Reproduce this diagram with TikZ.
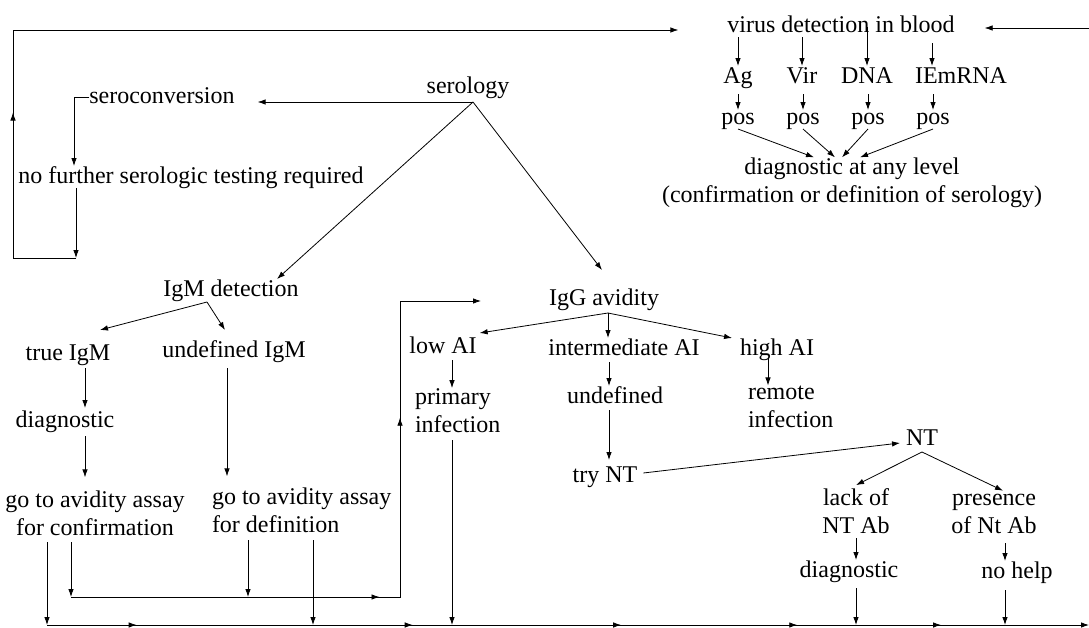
\documentclass[tikz,border=0pt]{standalone}
\usepackage{fontspec}
\setmainfont{Liberation Serif}
\usetikzlibrary{arrows.meta,decorations.markings}
\begin{document}
\begin{tikzpicture}[x=1pt,y=-1pt,
  lbl/.style={anchor=base,inner sep=0pt,outer sep=0pt,text height=17pt,text depth=5pt,font=\fontsize{24}{28}\selectfont},
  mlc/.style={anchor=base,inner sep=0pt,outer sep=0pt,align=center,font=\fontsize{24}{28}\selectfont},
  mll/.style={anchor=base west,inner sep=0pt,outer sep=0pt,align=left,font=\fontsize{24}{28}\selectfont},
  tip/.tip={Latex[length=8pt,width=5.5pt]},
  ln/.style={draw,line width=0.8pt},
  arr/.style={draw,line width=0.8pt,-tip},
  routemarks/.style={postaction={decorate,decoration={markings,
     mark=at position 0.437 with {\arrow{tip}},
     mark=at position 0.72 with {\arrow{tip}}}}},
  loopmark/.style={postaction={decorate,decoration={markings,
     mark=at position 0.218 with {\arrow{tip}}}}},
  bottommarks/.style={postaction={decorate,decoration={markings,
     mark=at position 0.086 with {\arrow{tip}},
     mark=at position 0.351 with {\arrow{tip}},
     mark=at position 0.551 with {\arrow{tip}},
     mark=at position 0.72 with {\arrow{tip}},
     mark=at position 0.858 with {\arrow{tip}}}}}
]
\useasboundingbox (0,0) rectangle (1089,627);

% ---- nodes (multi-line nodes are placed by the baseline of their last line) ----
\node[lbl] (vdb) at (841,32) {virus detection in blood};
\node[lbl] (ag) at (738,83) {Ag};
\node[lbl] (vir) at (802,83) {Vir};
\node[lbl] (dna) at (867,83) {DNA};
\node[lbl] (iem) at (961,83) {IEmRNA};
\node[lbl] (pos1) at (738,124) {pos};
\node[lbl] (pos2) at (803,124) {pos};
\node[lbl] (pos3) at (868,124) {pos};
\node[lbl] (pos4) at (933,124) {pos};
\node[mlc] (dal) at (852,202) {diagnostic at any level\\(confirmation or definition of serology)};

\node[lbl] (ser) at (468,93) {serology};
\node[lbl] (sero) at (162,103) {seroconversion};
\node[lbl] (nfst) at (191,183) {no further serologic testing required};

\node[lbl] (igm) at (231,296) {IgM detection};
\node[lbl] (igg) at (604,305) {IgG avidity};
\node[lbl] (tigm) at (68,360) {true IgM};
\node[lbl] (uigm) at (234,357) {undefined IgM};
\node[lbl] (dg1) at (65,427) {diagnostic};
\node[mlc] (ga1) at (95,535) {go to avidity assay\\for confirmation};
\node[mll] (ga2) at (212,532) {go to avidity assay\\ for definition};

\node[lbl] (lowai) at (443,353) {low AI};
\node[mll] (prim) at (415,432) {primary\\infection};
\node[lbl] (intai) at (624,355) {intermediate AI};
\node[lbl] (highai) at (777,355) {high AI};
\node[lbl] (undef) at (615,403) {undefined};
\node[mll] (remote) at (748,427) {remote\\infection};
\node[lbl] (trynt) at (605,482) {try NT};
\node[lbl] (nt) at (922,445) {NT};
\node[mlc] (lack) at (856,533) {lack of\\NT Ab};
\node[mlc] (pres) at (994,533) {presence\\of Nt Ab};
\node[lbl] (dg2) at (849,577) {diagnostic};
\node[lbl] (nohelp) at (1017,578) {no help};

% ---- helper coordinates ----
\coordinate (rtop) at (1089,28);
\coordinate (c1) at (76,258);
\coordinate (c2) at (13,258);
\coordinate (c3) at (13,30);
\coordinate (bl) at (47,625);
\coordinate (br) at (1089,625);
\coordinate (ra) at (71,597);
\coordinate (rc) at (400,597);
\coordinate (rb) at (400,301);
\coordinate (serhub) at ([xshift=5pt,yshift=-4pt]ser.south);
\coordinate (igmhub) at ([xshift=-24pt,yshift=-1pt]igm.south);
\coordinate (igghub) at ([xshift=4pt,yshift=-3pt]igg.south);
\coordinate (nthub) at ([yshift=-2pt]nt.south);

% ---- virus detection ----
\draw[arr] (ag.north |- vdb.south) -- (ag.north);
\draw[arr] (vir.north |- vdb.south) -- (vir.north);
\draw[arr] ([yshift=10pt]dna.north |- vdb.south) -- (dna.north);
\draw[arr] ([xshift=-29pt,yshift=-6pt]iem.north |- vdb.south) -- ([xshift=-29pt]iem.north);
\draw[arr] ([yshift=-6pt]pos1.north |- ag.south) -- ([yshift=-3pt]pos1.north);
\draw[arr] ([yshift=-6pt]pos2.north |- vir.south) -- ([yshift=-3pt]pos2.north);
\draw[arr] ([yshift=-6pt]pos3.north |- dna.south) -- ([yshift=-3pt]pos3.north);
\draw[arr] ([yshift=-6pt]pos4.north |- iem.south) -- ([yshift=-3pt]pos4.north);
\draw[arr] (pos1.south) -- ([xshift=-38pt]dal.north);
\draw[arr] (pos2.south) -- ([xshift=-17pt]dal.north);
\draw[arr] (pos3.south) -- ([xshift=-10pt]dal.north);
\draw[arr] (pos4.south) -- ([xshift=8pt]dal.north);
\draw[arr] (rtop) -- ([xshift=30pt]vdb.east |- rtop);

% ---- loop and seroconversion ----
\draw[arr] (c1 |- nfst.south) -- (c1);
\draw[arr,loopmark] (c1) -- (c2) -- (c3) -- ([xshift=-49pt]vdb.west |- c3);
\draw[arr] (sero.west) -| ([xshift=-117pt]nfst.north);
\draw[arr] (serhub) -- ([xshift=23pt]sero.east |- serhub);
\draw[arr] (serhub) -- ([xshift=46pt]igm.north);
\draw[arr] (serhub) -- ([xshift=-2pt,yshift=18pt]igg.north);

% ---- IgM branch ----
\draw[arr] (igmhub) -- ([xshift=32pt,yshift=13pt]tigm.north);
\draw[arr] (igmhub) -- ([xshift=-9pt,yshift=10pt]uigm.north);
\draw[arr] ([xshift=17pt,yshift=-3pt]tigm.south) -- ([xshift=17pt,yshift=2pt]tigm.south |- dg1.north);
\draw[arr] ([xshift=20pt,yshift=-4pt]dg1.south) -- ([xshift=20pt,yshift=13pt]dg1.south |- ga1.north);
\draw[arr] ([xshift=-7pt,yshift=-6pt]uigm.south) -- ([xshift=-7pt,yshift=11pt]uigm.south |- ga2.north);

% ---- to bottom / to avidity ----
\draw[arr] ([yshift=-7pt]bl |- ga1.south) -- (bl);
\draw[arr] ([yshift=-7pt]ra |- ga1.south) -- (ra);
\draw[arr] ([xshift=36pt,yshift=-8pt]ga2.south west) -- ([xshift=36pt]ga2.south west |- ra);
\draw[arr] ([xshift=101pt,yshift=-8pt]ga2.south west) -- ([xshift=101pt]ga2.south west |- bl);
\draw[arr,routemarks] (ra) -- (rc) -- (rb) -- ([xshift=-68pt]igg.west |- rb);
\draw[arr,bottommarks] (bl) -- (br);

% ---- IgG branch ----
\draw[arr] (igghub) -- ([xshift=3pt,yshift=3pt]lowai.north east);
\draw[arr] (igghub) -- ([xshift=-16pt]intai.north);
\draw[arr] (igghub) -- ([xshift=-8pt]highai.north west);
\draw[arr] ([xshift=9pt,yshift=-2pt]lowai.south) -- ([xshift=9pt]lowai.south |- prim.north);
\draw[arr] ([xshift=37pt,yshift=-8pt]prim.south west) -- ([xshift=37pt]prim.south west |- bl);
\draw[arr] ([xshift=-15pt,yshift=-2pt]intai.south) -- ([xshift=-15pt]intai.south |- undef.north);
\draw[arr] ([xshift=-6pt,yshift=-2pt]undef.south) -- ([xshift=-6pt,yshift=5pt]undef.south |- trynt.north);
\draw[arr] ([xshift=-9pt,yshift=2pt]highai.south) -- ([xshift=-9pt]highai.south |- remote.north);

% ---- NT ----
\draw[arr] ([xshift=6pt,yshift=3pt]trynt.east) -- ([xshift=-6pt,yshift=-4pt]nt.west);
\draw[arr] (nthub) -- ([yshift=3pt]lack.north);
\draw[arr] (nthub) -- ([xshift=9pt,yshift=3pt]pres.north);
\draw[arr] ([yshift=-5pt]lack.south) -- (lack.south |- dg2.north);
\draw[arr] ([yshift=-6pt]lack.south |- dg2.south) -- (lack.south |- bl);
\draw[arr] ([xshift=11pt,yshift=-10pt]pres.south) -- ([xshift=11pt]pres.south |- nohelp.north);
\draw[arr] ([xshift=11pt,yshift=-7pt]pres.south |- nohelp.south) -- ([xshift=11pt]pres.south |- bl);
\end{tikzpicture}
\end{document}
